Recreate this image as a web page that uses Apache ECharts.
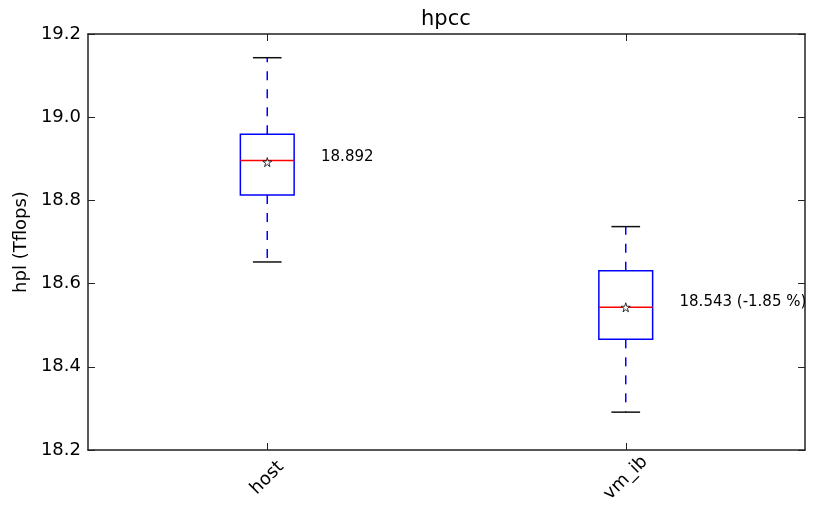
<!DOCTYPE html>
<html>
<head>
<meta charset="utf-8">
<script src="https://cdn.jsdelivr.net/npm/echarts@6/dist/echarts.min.js"></script>
<style>
  html, body { margin: 0; padding: 0; background: #fff; }
  #chart { width: 815px; height: 508px; }
</style>
</head>
<body>
<div id="chart"></div>
<script>
const categories = ['host', 'vm_ib'];
const whiskerLow = [18.652, 18.291];
const q1 = [18.813, 18.466];
const median = [18.896, 18.543];
const q3 = [18.959, 18.631];
const whiskerHigh = [19.143, 18.737];
const means = [18.892, 18.543];
const meanLabels = ['18.892', '18.543 (-1.85 %)'];

const FONT = '"DejaVu Sans"';
const frame = { show: true, lineStyle: { color: '#222', width: 1.5 } };
const tickIn = { show: true, inside: true, length: 7, lineStyle: { color: '#222', width: 1 } };

const boxData = categories.map((c, i) =>
  [i, whiskerLow[i], q1[i], median[i], q3[i], whiskerHigh[i], means[i]]);

function renderBox(params, api) {
  const x = api.value(0);
  const lo = api.coord([x, api.value(1)]);
  const b1 = api.coord([x, api.value(2)]);
  const md = api.coord([x, api.value(3)]);
  const b3 = api.coord([x, api.value(4)]);
  const hi = api.coord([x, api.value(5)]);
  const mn = api.coord([x, api.value(6)]);
  const band = api.size([1, 0])[0];
  const bw = band * 0.15;
  const cw = band * 0.08;
  const cx = md[0];
  const dash = { stroke: '#0000ff', lineWidth: 1.5, lineDash: [9, 9] };
  const cap = { stroke: '#111', lineWidth: 1.5 };
  return {
    type: 'group',
    children: [
      { type: 'line', shape: { x1: cx, y1: b3[1], x2: cx, y2: hi[1] }, style: dash },
      { type: 'line', shape: { x1: cx, y1: b1[1], x2: cx, y2: lo[1] }, style: dash },
      { type: 'line', shape: { x1: cx - cw / 2, y1: hi[1], x2: cx + cw / 2, y2: hi[1] }, style: cap },
      { type: 'line', shape: { x1: cx - cw / 2, y1: lo[1], x2: cx + cw / 2, y2: lo[1] }, style: cap },
      { type: 'rect', shape: { x: cx - bw / 2, y: b3[1], width: bw, height: b1[1] - b3[1] },
        style: { fill: 'none', stroke: '#0000ff', lineWidth: 1.5 } },
      { type: 'line', shape: { x1: cx - bw / 2, y1: md[1], x2: cx + bw / 2, y2: md[1] },
        style: { stroke: '#ff0000', lineWidth: 1.5 } },
      { type: 'text', x: cx + bw, y: mn[1] - 5,
        style: { text: meanLabels[params.dataIndex], fill: '#000', font: '15px ' + FONT,
                 align: 'left', verticalAlign: 'middle' } }
    ]
  };
}

const chart = echarts.init(document.getElementById('chart'));
chart.setOption({
  animation: false,
  title: {
    text: 'hpcc',
    left: 421,
    top: 9,
    padding: 0,
    textStyle: { fontFamily: 'DejaVu Sans', fontSize: 21, fontWeight: 'normal', color: '#000' }
  },
  grid: { left: 88, right: 10, top: 34, bottom: 58 },
  xAxis: [
    {
      type: 'category',
      data: categories,
      boundaryGap: true,
      axisLine: frame,
      axisTick: Object.assign({ alignWithLabel: true }, tickIn),
      axisLabel: { rotate: 45, fontFamily: 'DejaVu Sans', fontSize: 18, color: '#000',
                   align: 'center', verticalAlign: 'middle', margin: 28 },
      splitLine: { show: false }
    },
    {
      type: 'category',
      data: categories,
      position: 'top',
      boundaryGap: true,
      axisLine: frame,
      axisTick: Object.assign({ alignWithLabel: true }, tickIn),
      axisLabel: { show: false },
      splitLine: { show: false }
    }
  ],
  yAxis: [
    {
      type: 'value',
      min: 18.2,
      max: 19.2,
      interval: 0.2,
      name: 'hpl (Tflops)',
      nameLocation: 'middle',
      nameGap: 58,
      nameTextStyle: { fontFamily: 'DejaVu Sans', fontSize: 18, color: '#000' },
      axisLine: frame,
      axisTick: tickIn,
      axisLabel: { fontFamily: 'DejaVu Sans', fontSize: 18, color: '#000', margin: 7,
                   formatter: v => v.toFixed(1) },
      splitLine: { show: false }
    },
    {
      type: 'value',
      min: 18.2,
      max: 19.2,
      interval: 0.2,
      position: 'right',
      axisLine: frame,
      axisTick: tickIn,
      axisLabel: { show: false },
      splitLine: { show: false }
    }
  ],
  series: [
    {
      type: 'custom',
      renderItem: renderBox,
      data: boxData,
      encode: { x: 0, y: [1, 2, 3, 4, 5] },
      z: 2
    },
    {
      type: 'scatter',
      data: categories.map((c, i) => [i, means[i]]),
      symbol: 'path://M50,0 L61,35 L98,35 L68,57 L79,91 L50,70 L21,91 L32,57 L2,35 L39,35 Z',
      symbolSize: 9,
      itemStyle: { color: '#fff', borderColor: '#000', borderWidth: 0.8, opacity: 1 },
      z: 3
    }
  ]
});
</script>
</body>
</html>
